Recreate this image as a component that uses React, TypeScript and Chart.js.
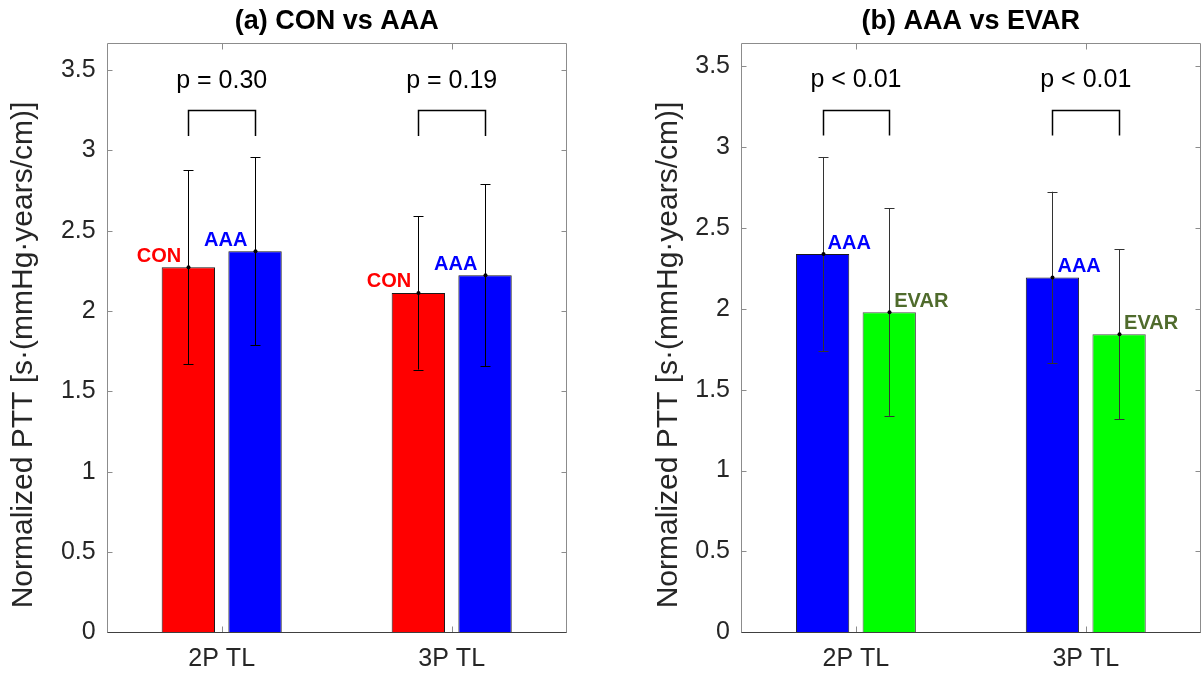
import React, { useEffect, useRef } from 'react';
import { Chart, registerables } from 'chart.js';

Chart.register(...registerables);

// ---- data ----
const categories = ['2P TL', '3P TL'];

const conMean = [2.273, 2.113];
const conSd = [0.604, 0.477];
const aaaMeanA = [2.372, 2.223];
const aaaSdA = [0.586, 0.567];

const aaaMeanB = [2.338, 2.193];
const aaaSdB = [0.6, 0.53];
const evarMean = [1.979, 1.843];
const evarSd = [0.641, 0.525];

const pLabelsA = ['p = 0.30', 'p = 0.19'];
const pLabelsB = ['p < 0.01', 'p < 0.01'];

const yAxisLabel = 'Normalized PTT [s\u00b7(mmHg\u00b7years/cm)]';

const FONT = '"Liberation Sans", Arial, Helvetica, sans-serif';
const H = 677;
const AREA_BOTTOM = 632.3;

type Series = {
  name: string;
  mean: number[];
  sd: number[];
  fill: string;
  edge: string;
  text: string;
};

type Panel = {
  key: string;
  title: string;
  left: number;
  width: number;
  areaLeft: number;
  areaRight: number;
  yMax: number;
  series: Series[];
  pLabels: string[];
  bracketTop: number;
  bracketLeg: number;
  pBase: number;
  labelSide: 'left' | 'right';
  errColor: string;
  yLabelX: number;
  yLabelY: number;
};

const panels: Panel[] = [
  {
    key: 'a',
    title: '(a) CON vs AAA',
    left: 0,
    width: 602,
    areaLeft: 106.7,
    areaRight: 566.7,
    yMax: 3.6667,
    series: [
      { name: 'CON', mean: conMean, sd: conSd, fill: '#ff0000', edge: '#1a1a1a', text: '#ff0000' },
      { name: 'AAA', mean: aaaMeanA, sd: aaaSdA, fill: '#0000ff', edge: '#1a1a1a', text: '#0000ff' },
    ],
    pLabels: pLabelsA,
    bracketTop: 3.25,
    bracketLeg: 3.09,
    pBase: 3.392,
    labelSide: 'left',
    errColor: '#000000',
    yLabelX: 32,
    yLabelY: 355,
  },
  {
    key: 'b',
    title: '(b) AAA vs EVAR',
    left: 602,
    width: 602,
    areaLeft: 139,
    areaRight: 598.7,
    yMax: 3.64,
    series: [
      { name: 'AAA', mean: aaaMeanB, sd: aaaSdB, fill: '#0000ff', edge: '#1a1a1a', text: '#0000ff' },
      { name: 'EVAR', mean: evarMean, sd: evarSd, fill: '#00ff00', edge: '#4d4d4d', text: '#4f6b2c' },
    ],
    pLabels: pLabelsB,
    bracketTop: 3.23,
    bracketLeg: 3.07,
    pBase: 3.37,
    labelSide: 'right',
    errColor: '#333333',
    yLabelX: 75,
    yLabelY: 355,
  },
];

// Axes box, inward ticks, error bars, group labels, significance brackets, y label
const decorPlugin = {
  id: 'decor',
  afterDatasetsDraw(chart: any, _args: any, opts: any) {
    const panel: Panel = opts.panel;
    const ctx: CanvasRenderingContext2D = chart.ctx;
    const { left, right, top, bottom } = chart.chartArea;
    const xs = chart.scales.x;
    const ys = chart.scales.y;
    ctx.save();

    // error bars + group labels
    chart.data.datasets.forEach((ds: any, i: number) => {
      const meta = chart.getDatasetMeta(i);
      meta.data.forEach((el: any, j: number) => {
        const m = ds.data[j];
        const s = ds.sd[j];
        const x = Math.round(el.x) + 0.5;
        const y1 = ys.getPixelForValue(m + s);
        const y2 = ys.getPixelForValue(m - s);
        ctx.strokeStyle = panel.errColor;
        ctx.lineWidth = 1;
        ctx.beginPath();
        ctx.moveTo(x, y1);
        ctx.lineTo(x, y2);
        ctx.moveTo(x - 5, Math.round(y1) + 0.5);
        ctx.lineTo(x + 5, Math.round(y1) + 0.5);
        ctx.moveTo(x - 5, Math.round(y2) + 0.5);
        ctx.lineTo(x + 5, Math.round(y2) + 0.5);
        ctx.stroke();
        ctx.fillStyle = '#000';
        ctx.beginPath();
        ctx.arc(x, el.y, 2, 0, Math.PI * 2);
        ctx.fill();

        ctx.font = `bold 20px ${FONT}`;
        ctx.fillStyle = ds.textColor;
        ctx.textBaseline = 'alphabetic';
        if (panel.labelSide === 'left') {
          ctx.textAlign = 'center';
          ctx.fillText(ds.label, el.x - 0.55 * el.width, el.y - 5.5);
        } else {
          ctx.textAlign = 'left';
          ctx.fillText(ds.label, el.x + 5, el.y - 5.5);
        }
      });
    });

    // significance brackets and p values
    const m0 = chart.getDatasetMeta(0);
    const m1 = chart.getDatasetMeta(1);
    panel.pLabels.forEach((txt, j) => {
      const xa = Math.round(m0.data[j].x) + 0.5;
      const xb = Math.round(m1.data[j].x) + 0.5;
      const yt = Math.round(ys.getPixelForValue(panel.bracketTop)) + 0.5;
      const yl = ys.getPixelForValue(panel.bracketLeg);
      ctx.strokeStyle = '#000';
      ctx.lineWidth = 1.5;
      ctx.beginPath();
      ctx.moveTo(xa, yl);
      ctx.lineTo(xa, yt);
      ctx.lineTo(xb, yt);
      ctx.lineTo(xb, yl);
      ctx.stroke();
      ctx.font = `25px ${FONT}`;
      ctx.fillStyle = '#000';
      ctx.textAlign = 'center';
      ctx.textBaseline = 'alphabetic';
      ctx.fillText(txt, xs.getPixelForValue(j), ys.getPixelForValue(panel.pBase));
    });

    // axes box with inward ticks
    const L = Math.round(left) + 0.5;
    const R = Math.round(right) - 0.5;
    const T = Math.round(top) + 0.5;
    const B = Math.round(bottom) + 0.5;
    ctx.lineWidth = 1;
    ctx.strokeStyle = '#8c8c8c';
    ctx.beginPath();
    ctx.moveTo(L, B);
    ctx.lineTo(L, T);
    ctx.lineTo(R, T);
    ctx.lineTo(R, B);
    ys.ticks.forEach((t: any) => {
      const y = Math.round(ys.getPixelForValue(t.value)) + 0.5;
      ctx.moveTo(L, y);
      ctx.lineTo(L + 5, y);
      ctx.moveTo(R, y);
      ctx.lineTo(R - 5, y);
    });
    categories.forEach((_c, j) => {
      const x = Math.round(xs.getPixelForValue(j)) + 0.5;
      ctx.moveTo(x, B);
      ctx.lineTo(x, B - 6);
      ctx.moveTo(x, T);
      ctx.lineTo(x, T + 6);
    });
    ctx.stroke();
    ctx.strokeStyle = '#404040';
    ctx.beginPath();
    ctx.moveTo(L, B);
    ctx.lineTo(R, B);
    ctx.stroke();

    // y axis label
    ctx.translate(panel.yLabelX, panel.yLabelY);
    ctx.rotate(-Math.PI / 2);
    ctx.font = `30px ${FONT}`;
    ctx.fillStyle = '#262626';
    ctx.textAlign = 'center';
    ctx.textBaseline = 'alphabetic';
    ctx.fillText(yAxisLabel, 0, 0);
    ctx.restore();
  },
};

function PanelChart({ panel }: { panel: Panel }) {
  const ref = useRef<HTMLCanvasElement>(null);

  useEffect(() => {
    const canvas = ref.current;
    if (!canvas) return;
    const chart = new Chart(canvas, {
      type: 'bar',
      data: {
        labels: categories,
        datasets: panel.series.map((s) => ({
          label: s.name,
          data: s.mean,
          sd: s.sd,
          textColor: s.text,
          backgroundColor: s.fill,
          borderColor: s.edge,
          borderWidth: 1,
          categoryPercentage: 0.58,
          barPercentage: 0.8,
        })) as any,
      },
      options: {
        responsive: false,
        animation: false,
        layout: { padding: { left: 0, right: panel.width - panel.areaRight, top: 0, bottom: 0 } },
        plugins: {
          legend: { display: false },
          tooltip: { enabled: false },
          title: {
            display: true,
            text: panel.title,
            fullSize: false,
            color: '#000',
            font: { family: FONT, size: 27, weight: 'bold' },
            padding: { top: 5, bottom: 6 },
          },
          decor: { panel },
        } as any,
        scales: {
          x: {
            type: 'category',
            offset: true,
            grid: { display: false, drawTicks: false },
            border: { display: false },
            ticks: { color: '#262626', font: { family: FONT, size: 25 }, padding: 12 },
            afterFit: (s: any) => {
              s.height = H - AREA_BOTTOM;
            },
          },
          y: {
            min: 0,
            max: panel.yMax,
            grid: { display: false, drawTicks: false },
            border: { display: false },
            ticks: {
              stepSize: 0.5,
              includeBounds: false,
              color: '#262626',
              font: { family: FONT, size: 25 },
              padding: 11,
              callback: (v: any) => String(Math.round(Number(v) * 10) / 10),
            },
            afterFit: (s: any) => {
              s.width = panel.areaLeft;
            },
          },
        },
      },
      plugins: [decorPlugin],
    });
    return () => chart.destroy();
  }, [panel]);

  return (
    <canvas
      ref={ref}
      width={panel.width}
      height={H}
      style={{ position: 'absolute', left: panel.left, top: 0, width: panel.width, height: H }}
    />
  );
}

export default function App() {
  return (
    <div style={{ position: 'absolute', left: 0, top: 0, width: 1204, height: H, background: '#ffffff', overflow: 'hidden' }}>
      {panels.map((p) => (
        <PanelChart key={p.key} panel={p} />
      ))}
    </div>
  );
}
